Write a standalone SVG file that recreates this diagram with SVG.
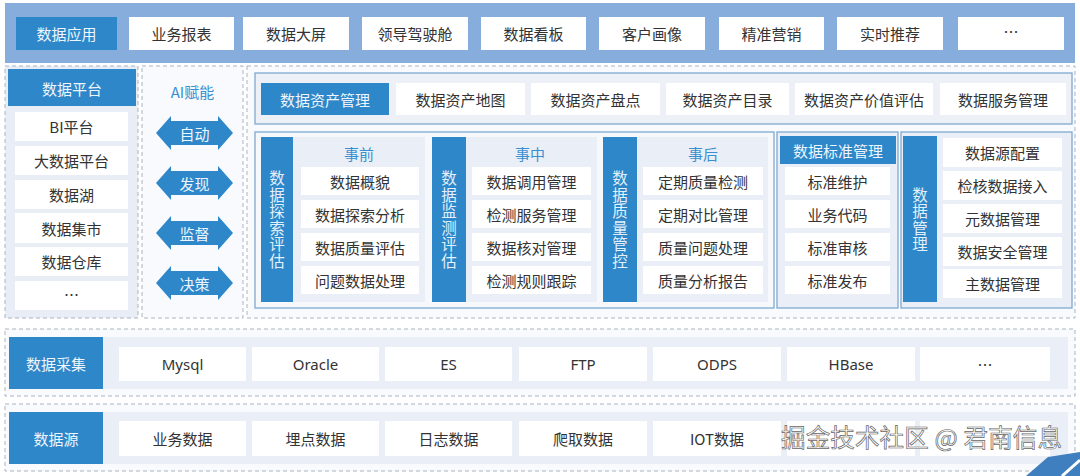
<svg xmlns="http://www.w3.org/2000/svg" width="1080" height="476" viewBox="0 0 1080 476">
<defs>
<style>
.bg{fill:#ffffff}
.dk{fill:#2d87c9}
.wb{fill:#ffffff}
.pn{fill:#eaeff7}
.dash{fill:#f8fafd;stroke:#aab4c2;stroke-width:1;stroke-dasharray:4 3}
.sec{fill:#f6f8fb;stroke:#7ea9cf;stroke-width:1.3}
.t{font-family:"Noto Sans CJK SC","Noto Sans",sans-serif;font-size:15px;fill:#333333;text-anchor:middle;dominant-baseline:central}
.e{font-family:"Noto Sans","Noto Sans CJK SC",sans-serif}
.w{fill:#eef5fc}
.b{fill:#3a8fd0}
.v{font-family:"Noto Sans CJK SC",sans-serif;font-size:15.5px;fill:#e3eff9;text-anchor:middle;writing-mode:vertical-rl;letter-spacing:1px}
</style>
</defs>
<rect class="bg" x="0" y="0" width="1080" height="476"/>

<!-- Top bar -->
<g id="app-layer">
<rect x="5" y="3" width="1070" height="60" fill="#86addb"/>
<rect class="dk" x="16" y="17" width="101" height="33"/>
<text class="t w" x="66.5" y="33.5">数据应用</text>
<rect class="wb" x="129" y="17" width="105" height="33"/><text class="t" x="181.5" y="33.5">业务报表</text>
<rect class="wb" x="243" y="17" width="106" height="33"/><text class="t" x="296" y="33.5">数据大屏</text>
<rect class="wb" x="362" y="17" width="106" height="33"/><text class="t" x="415" y="33.5">领导驾驶舱</text>
<rect class="wb" x="481" y="17" width="105" height="33"/><text class="t" x="533.5" y="33.5">数据看板</text>
<rect class="wb" x="599" y="17" width="106" height="33"/><text class="t" x="652" y="33.5">客户画像</text>
<rect class="wb" x="719" y="17" width="105" height="33"/><text class="t" x="771.5" y="33.5">精准营销</text>
<rect class="wb" x="837" y="17" width="106" height="33"/><text class="t" x="890" y="33.5">实时推荐</text>
<rect class="wb" x="958" y="17" width="106" height="33"/><text class="t" x="1011" y="31" fill="#666">…</text>
</g>

<!-- Data platform -->
<g id="platform">
<rect class="dash" x="5" y="66" width="133" height="252" style="fill:#e9eef6"/>
<rect class="dk" x="8" y="69" width="128" height="37"/>
<text class="t w" x="72" y="88">数据平台</text>
<rect class="wb" x="15" y="112" width="113" height="29"/><text class="t" x="71.5" y="126.5">BI平台</text>
<rect class="wb" x="15" y="146" width="113" height="29"/><text class="t" x="71.5" y="160.5">大数据平台</text>
<rect class="wb" x="15" y="180" width="113" height="29"/><text class="t" x="71.5" y="194.5">数据湖</text>
<rect class="wb" x="15" y="213" width="113" height="30"/><text class="t" x="71.5" y="228">数据集市</text>
<rect class="wb" x="15" y="247" width="113" height="29"/><text class="t" x="71.5" y="261.5">数据仓库</text>
<rect class="wb" x="15" y="281" width="113" height="29"/><text class="t" x="71.5" y="294" fill="#666">…</text>
</g>

<!-- AI -->
<g id="ai">
<rect class="dash" x="142" y="66" width="101" height="252"/>
<text class="t b" x="192.5" y="91">AI赋能</text>
<g id="ai-auto"><path class="dk" d="M156,133 L171,116 L171,121 L218,121 L218,116 L233,133 L218,150 L218,145 L171,145 L171,150 Z"/><text class="t w" x="194.5" y="133">自动</text></g>
<g id="ai-find"><path class="dk" d="M156,183 L171,166 L171,171 L218,171 L218,166 L233,183 L218,200 L218,195 L171,195 L171,200 Z"/><text class="t w" x="194.5" y="183">发现</text></g>
<g id="ai-watch"><path class="dk" d="M156,233 L171,216 L171,221 L218,221 L218,216 L233,233 L218,250 L218,245 L171,245 L171,250 Z"/><text class="t w" x="194.5" y="233">监督</text></g>
<g id="ai-decide"><path class="dk" d="M156,283 L171,266 L171,271 L218,271 L218,266 L233,283 L218,300 L218,295 L171,295 L171,300 Z"/><text class="t w" x="194.5" y="283">决策</text></g>
</g>

<!-- Middle governance -->
<g id="governance">
<rect class="dash" x="247" y="66" width="828" height="252"/>
<g id="asset-row">
<rect class="sec" x="255" y="73" width="817" height="51" style="fill:#edf1f7"/>
<rect class="dk" x="261" y="83" width="128" height="32"/><text class="t w" x="325" y="99">数据资产管理</text>
<rect class="wb" x="396" y="83" width="129" height="32"/><text class="t" x="460.5" y="99">数据资产地图</text>
<rect class="wb" x="531" y="83" width="129" height="32"/><text class="t" x="595.5" y="99">数据资产盘点</text>
<rect class="wb" x="666" y="83" width="123" height="32"/><text class="t" x="727.5" y="99">数据资产目录</text>
<rect class="wb" x="795" y="83" width="138" height="32"/><text class="t" x="864" y="99">数据资产价值评估</text>
<rect class="wb" x="940" y="83" width="126" height="32"/><text class="t" x="1003" y="99">数据服务管理</text>
</g>

<g id="quality">
<rect class="sec" x="255" y="132" width="519" height="176"/>
<g id="before">
<rect class="pn" x="293" y="137" width="132" height="165"/>
<rect class="dk" x="261" y="137" width="32" height="165"/>
<text class="v" x="277" y="220">数据探索评估</text>
<text class="t b" x="359" y="153">事前</text>
<rect class="wb" x="301" y="167" width="118" height="28"/><text class="t" x="360" y="181">数据概貌</text>
<rect class="wb" x="301" y="200" width="118" height="28"/><text class="t" x="360" y="214">数据探索分析</text>
<rect class="wb" x="301" y="233" width="118" height="28"/><text class="t" x="360" y="247">数据质量评估</text>
<rect class="wb" x="301" y="266" width="118" height="28"/><text class="t" x="360" y="280">问题数据处理</text>
</g>
<g id="during">
<rect class="pn" x="466" y="137" width="131" height="165"/>
<rect class="dk" x="432" y="137" width="34" height="165"/>
<text class="v" x="449" y="220">数据监测评估</text>
<text class="t b" x="530" y="153">事中</text>
<rect class="wb" x="472" y="167" width="119" height="28"/><text class="t" x="531.5" y="181">数据调用管理</text>
<rect class="wb" x="472" y="200" width="119" height="28"/><text class="t" x="531.5" y="214">检测服务管理</text>
<rect class="wb" x="472" y="233" width="119" height="28"/><text class="t" x="531.5" y="247">数据核对管理</text>
<rect class="wb" x="472" y="266" width="119" height="28"/><text class="t" x="531.5" y="280">检测规则跟踪</text>
</g>
<g id="after">
<rect class="pn" x="637" y="137" width="131" height="165"/>
<rect class="dk" x="603" y="137" width="34" height="165"/>
<text class="v" x="620" y="220">数据质量管控</text>
<text class="t b" x="703" y="153">事后</text>
<rect class="wb" x="643" y="167" width="120" height="28"/><text class="t" x="703" y="181">定期质量检测</text>
<rect class="wb" x="643" y="200" width="120" height="28"/><text class="t" x="703" y="214">定期对比管理</text>
<rect class="wb" x="643" y="233" width="120" height="28"/><text class="t" x="703" y="247">质量问题处理</text>
<rect class="wb" x="643" y="266" width="120" height="28"/><text class="t" x="703" y="280">质量分析报告</text>
</g>
</g>

<g id="standard">
<rect class="sec" x="777" y="132" width="121" height="176" style="fill:#eaeff7"/>
<rect class="dk" x="780" y="136" width="116" height="28"/><text class="t w" x="838" y="150">数据标准管理</text>
<rect class="wb" x="785" y="167" width="105" height="28"/><text class="t" x="837.5" y="181">标准维护</text>
<rect class="wb" x="785" y="200" width="105" height="28"/><text class="t" x="837.5" y="214">业务代码</text>
<rect class="wb" x="785" y="233" width="105" height="28"/><text class="t" x="837.5" y="247">标准审核</text>
<rect class="wb" x="785" y="266" width="105" height="28"/><text class="t" x="837.5" y="280">标准发布</text>
</g>

<g id="data-mgmt">
<rect class="sec" x="901" y="132" width="171" height="176" style="fill:#eaeff7"/>
<rect class="dk" x="903" y="136" width="34" height="166"/>
<text class="v" x="920" y="220">数据管理</text>
<rect class="wb" x="943" y="138" width="119" height="29"/><text class="t" x="1002.5" y="152.5">数据源配置</text>
<rect class="wb" x="943" y="171" width="119" height="29"/><text class="t" x="1002.5" y="185.5">检核数据接入</text>
<rect class="wb" x="943" y="204" width="119" height="29"/><text class="t" x="1002.5" y="218.5">元数据管理</text>
<rect class="wb" x="943" y="237" width="119" height="29"/><text class="t" x="1002.5" y="251.5">数据安全管理</text>
<rect class="wb" x="943" y="269" width="119" height="29"/><text class="t" x="1002.5" y="283.5">主数据管理</text>
</g>
</g>

<!-- Collection -->
<g id="collect">
<rect class="dash" x="5" y="329" width="1070" height="67"/>
<rect class="pn" x="103" y="337" width="965" height="52"/>
<rect class="dk" x="9" y="337" width="94" height="52"/><text class="t w" x="56" y="363">数据采集</text>
<rect class="wb" x="119" y="347" width="127" height="34"/><text class="t e" x="182.5" y="364">Mysql</text>
<rect class="wb" x="252" y="347" width="127" height="34"/><text class="t e" x="315.5" y="364">Oracle</text>
<rect class="wb" x="385" y="347" width="127" height="34"/><text class="t e" x="448.5" y="364">ES</text>
<rect class="wb" x="519" y="347" width="128" height="34"/><text class="t e" x="583" y="364">FTP</text>
<rect class="wb" x="653" y="347" width="128" height="34"/><text class="t e" x="717" y="364">ODPS</text>
<rect class="wb" x="787" y="347" width="128" height="34"/><text class="t e" x="851" y="364">HBase</text>
<rect class="wb" x="920" y="347" width="130" height="34"/><text class="t" x="985" y="364" fill="#666">…</text>
</g>

<!-- Sources -->
<g id="source">
<rect class="dash" x="5" y="404" width="1070" height="67"/>
<rect class="pn" x="103" y="412" width="965" height="52"/>
<rect class="dk" x="9" y="412" width="94" height="52"/><text class="t w" x="56" y="438">数据源</text>
<rect class="wb" x="119" y="421" width="127" height="35"/><text class="t" x="182.5" y="438.5">业务数据</text>
<rect class="wb" x="252" y="421" width="127" height="35"/><text class="t" x="315.5" y="438.5">埋点数据</text>
<rect class="wb" x="385" y="421" width="127" height="35"/><text class="t" x="448.5" y="438.5">日志数据</text>
<rect class="wb" x="519" y="421" width="128" height="35"/><text class="t" x="583" y="438.5">爬取数据</text>
<rect class="wb" x="653" y="421" width="128" height="35"/><text class="t" x="717" y="438.5">IOT数据</text>
<rect class="wb" x="787" y="421" width="128" height="35"/>
<rect class="wb" x="920" y="421" width="130" height="35"/>
</g>

<!-- Watermark -->
<path d="M1026,476 L1048,457 L1080,452 L1080,476 Z" fill="#3f7fbf"/>
<path d="M1062,476 L1080,460" stroke="#ffffff" stroke-width="3"/>
<text x="781" y="447" font-family="Noto Sans CJK SC,sans-serif" font-size="24.5" fill="#ffffff" stroke="#666666" stroke-width="0.7" textLength="281">掘金技术社区 @ 君南信息</text>
</svg>
